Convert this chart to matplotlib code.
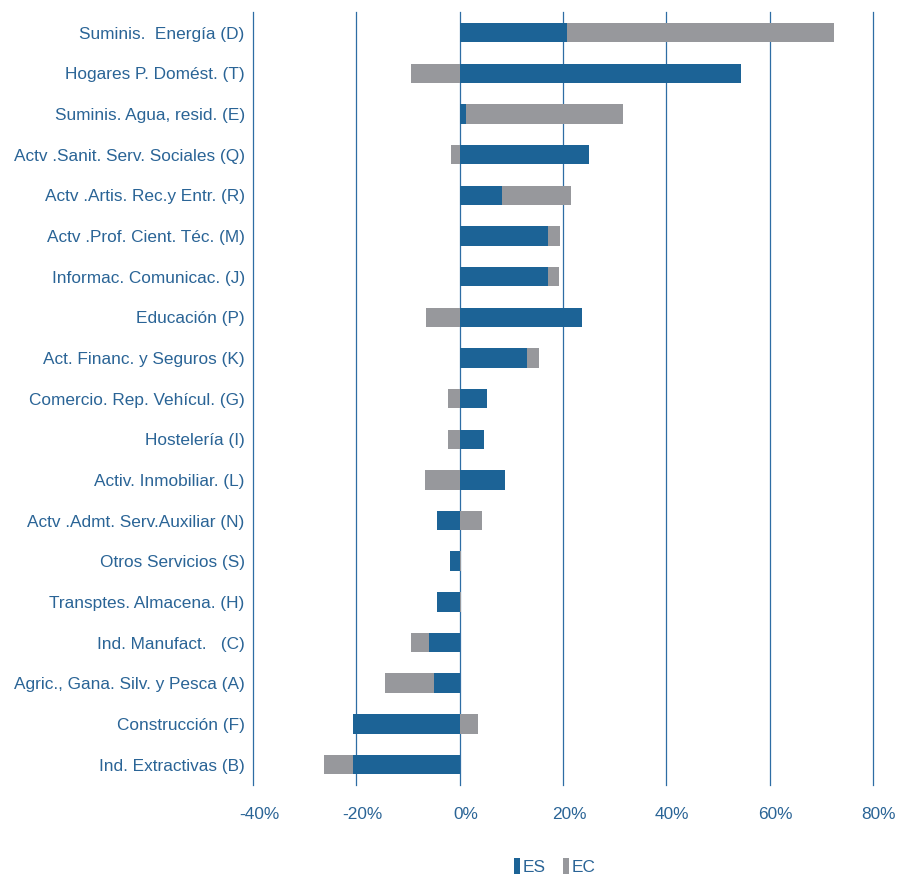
import numpy as np
import matplotlib
matplotlib.use('Agg')
import matplotlib.pyplot as plt
import matplotlib.transforms as mtransforms
from matplotlib.patches import Patch
from matplotlib import font_manager

# familia condensada tipo Arial Narrow si existe
names = {f.name for f in font_manager.fontManager.ttflist}
fam = 'Liberation Sans Narrow' if 'Liberation Sans Narrow' in names else 'Liberation Sans'
plt.rcParams['font.family'] = [fam, 'DejaVu Sans']

sectores = [
    'Suminis.  Energía (D)', 'Hogares P. Domést. (T)', 'Suminis. Agua, resid. (E)',
    'Actv .Sanit. Serv. Sociales (Q)', 'Actv .Artis. Rec.y Entr. (R)',
    'Actv .Prof. Cient. Téc. (M)', 'Informac. Comunicac. (J)', 'Educación (P)',
    'Act. Financ. y Seguros (K)', 'Comercio. Rep. Vehícul. (G)', 'Hostelería (I)',
    'Activ. Inmobiliar. (L)', 'Actv .Admt. Serv.Auxiliar (N)', 'Otros Servicios (S)',
    'Transptes. Almacena. (H)', 'Ind. Manufact.   (C)',
    'Agric., Gana. Silv. y Pesca (A)', 'Construcción (F)', 'Ind. Extractivas (B)',
]
es = [20.7, 54.5, 1.3, 25.1, 8.2, 17.0, 17.0, 23.7, 13.1, 5.2, 4.7, 8.8,
      -4.3, -1.9, -4.3, -5.9, -5.0, -20.7, -20.6]
ec = [51.8, -9.5, 30.4, -1.7, 13.3, 2.4, 2.2, -6.6, 2.2, -2.2, -2.3, -6.7,
      4.3, 0.3, 0.3, -3.5, -9.5, 3.6, -5.7]
xticks = [-40, -20, 0, 20, 40, 60, 80]

azul = '#1C6396'
gris = '#97989C'
texto = '#2A6496'
linea = '#2E6DA4'
fs = 12.4

es = np.array(es)
ec = np.array(ec)
y = np.arange(len(sectores))

# apilado divergente: EC continúa desde ES si tienen el mismo signo
left_ec = np.where(np.sign(ec) == np.sign(es), es, 0)

fig = plt.figure(figsize=(8.99, 8.77), dpi=100)
ax = fig.add_axes([0.2815, 0.105, 0.971 - 0.2815, 0.881])

for xv in xticks:
    ax.axvline(xv, color=linea, linewidth=0.9, zorder=0, clip_on=False)

ax.barh(y, es, height=0.48, color=azul, zorder=2, label='ES')
ax.barh(y, ec, left=left_ec, height=0.48, color=gris, zorder=2, label='EC')

ax.set_xlim(-40, 80)
ax.set_ylim(len(sectores) - 0.5, -0.5)
ax.set_yticks(y)
ax.set_yticklabels(sectores, fontsize=fs, color=texto)
ax.set_xticks(xticks)
ax.set_xticklabels([f'{v}%' for v in xticks], fontsize=fs, color=texto)
ax.tick_params(axis='both', length=0)
ax.tick_params(axis='y', pad=6)
ax.tick_params(axis='x', pad=16)
for s in ax.spines.values():
    s.set_visible(False)

# las etiquetas del eje X están algo desplazadas a la derecha
off = mtransforms.ScaledTranslation(0.06, 0, fig.dpi_scale_trans)
for lab in ax.get_xticklabels():
    lab.set_transform(lab.get_transform() + off)

handles = [Patch(facecolor=azul, label='ES'), Patch(facecolor=gris, label='EC')]
leg = fig.legend(handles=handles, loc='center', bbox_to_anchor=(0.617, 0.012),
                 ncol=2, frameon=False, fontsize=fs, handlelength=0.35,
                 handleheight=1.0, handletextpad=0.15, columnspacing=1.0)
for t in leg.get_texts():
    t.set_color(texto)

fig.savefig('out.png', dpi=100)
